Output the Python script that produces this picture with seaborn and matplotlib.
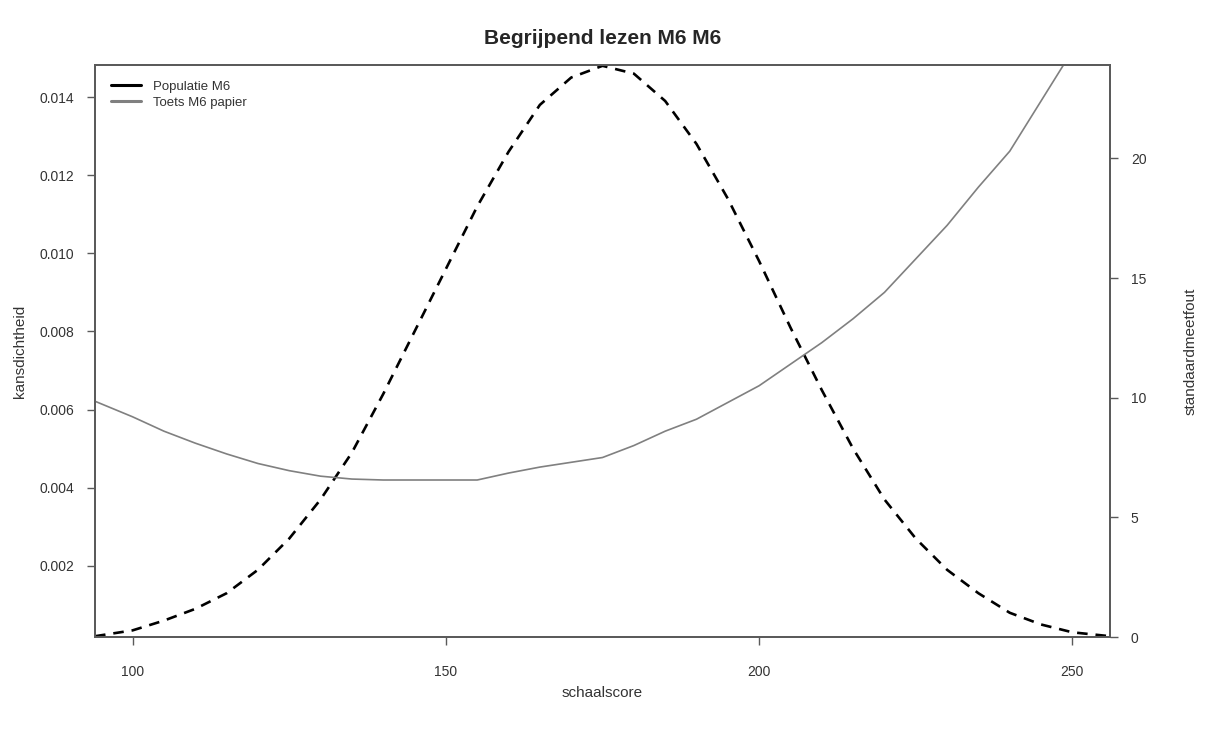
import matplotlib
matplotlib.use("Agg")
import matplotlib.pyplot as plt
from matplotlib.lines import Line2D
import seaborn as sns

# schaalscore waarden (x-as)
score = [94, 100, 105, 110, 115, 120, 125, 130, 135, 140, 145, 150, 155, 160,
         165, 170, 175, 180, 185, 190, 195, 200, 205, 210, 215, 220, 225, 230,
         235, 240, 245, 250, 256]

# kansdichtheid populatie M6 (linker as)
dichtheid = [0.0002, 0.00035, 0.0006, 0.0009, 0.0013, 0.0019, 0.0027, 0.0037,
             0.0049, 0.0064, 0.0080, 0.0096, 0.0112, 0.0126, 0.0138, 0.0145,
             0.0148, 0.0146, 0.0139, 0.0128, 0.0114, 0.0098, 0.0081, 0.0065,
             0.0050, 0.0037, 0.0027, 0.0019, 0.0013, 0.0008, 0.0005, 0.0003,
             0.0002]

# standaardmeetfout toets M6 papier (rechter as)
score_sem = [94, 100, 105, 110, 115, 120, 125, 130, 135, 140, 145, 150, 155,
             160, 165, 170, 175, 180, 185, 190, 195, 200, 205, 210, 215, 220,
             225, 230, 235, 240, 245, 250]
sem = [9.85, 9.2, 8.6, 8.1, 7.65, 7.25, 6.95, 6.72, 6.6, 6.56, 6.56, 6.56,
       6.56, 6.85, 7.1, 7.3, 7.5, 8.0, 8.6, 9.1, 9.8, 10.5, 11.4, 12.3,
       13.3, 14.4, 15.8, 17.2, 18.8, 20.3, 22.4, 24.5]

xticks = [100, 150, 200, 250]
yticks_links = [0.002, 0.004, 0.006, 0.008, 0.010, 0.012, 0.014]
yticks_rechts = [0, 5, 10, 15, 20]

sns.set_style("white")
plt.rcParams['font.family'] = ['Liberation Sans', 'DejaVu Sans']

tekst = "#333333"
rand = "#5a5a5a"

fig = plt.figure(figsize=(12.06, 7.29), dpi=100)
ax = fig.add_axes([0.0788, 0.1262, 0.8416, 0.7846])
ax2 = ax.twinx()

sns.lineplot(x=score, y=dichtheid, ax=ax, color="black", linewidth=1.9,
             linestyle=(0, (4, 3)), estimator=None)
sns.lineplot(x=score_sem, y=sem, ax=ax2, color="#808080", linewidth=1.2,
             estimator=None)

ax.set_xlim(94, 256)
ax.set_ylim(0.00018, 0.01482)
ax2.set_ylim(0, 23.9)

ax.set_xticks(xticks)
ax.set_xticklabels([str(t) for t in xticks])
ax.set_yticks(yticks_links)
ax.set_yticklabels([f"{t:.3f}" for t in yticks_links])
ax2.set_yticks(yticks_rechts)
ax2.set_yticklabels([str(t) for t in yticks_rechts])

for a in (ax, ax2):
    for s in a.spines.values():
        s.set_color(rand)
        s.set_linewidth(1.3)
    a.grid(False)

ax.tick_params(axis="x", direction="out", length=6, width=1, color=rand,
               labelsize=10, labelcolor=tekst, pad=14, bottom=True)
ax.tick_params(axis="y", direction="out", length=6, width=1, color=rand,
               labelsize=10, labelcolor=tekst, pad=9, left=True)
ax2.tick_params(axis="y", direction="out", length=6, width=1, color=rand,
                labelsize=10, labelcolor=tekst, pad=9, right=True)

ax.set_xlabel("schaalscore", fontsize=11, color=tekst, labelpad=5)
ax.set_ylabel("kansdichtheid", fontsize=11, color=tekst, labelpad=9)
ax2.set_ylabel("standaardmeetfout", fontsize=11, color=tekst, labelpad=27)

fig.suptitle("Begrijpend lezen M6 M6", fontsize=15, fontweight="bold",
             x=0.5, y=0.96)

handles = [Line2D([0], [0], color="black", linewidth=2.2),
           Line2D([0], [0], color="#808080", linewidth=2.2)]
ax.legend(handles, ["Populatie M6", "Toets M6 papier"], loc="upper left",
          frameon=False, fontsize=9.5, handlelength=2.3, handletextpad=0.9,
          labelspacing=0.25, borderaxespad=0.8, labelcolor=tekst)

fig.savefig("out.png", dpi=100)
